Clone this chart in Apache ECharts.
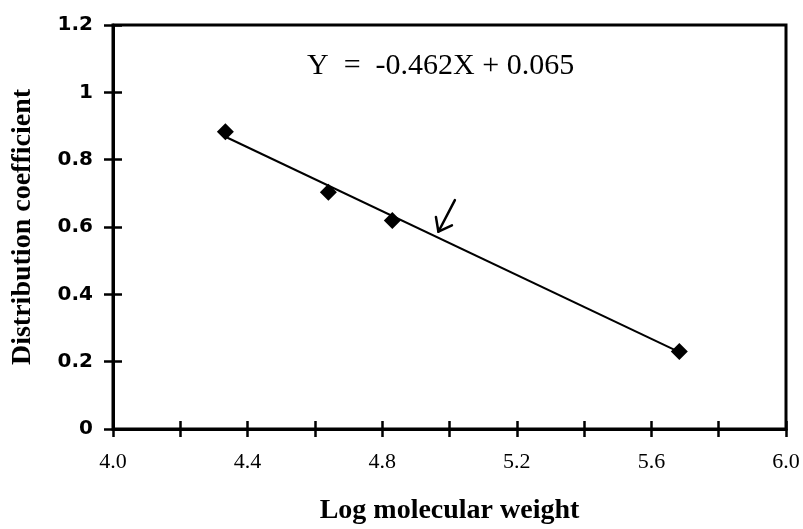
<!DOCTYPE html>
<html>
<head>
<meta charset="utf-8">
<script src="https://cdn.jsdelivr.net/npm/echarts@6/dist/echarts.min.js"></script>
<style>
  html, body { margin: 0; padding: 0; background: #fff; }
  #chart { width: 803px; height: 529px; }
</style>
</head>
<body>
<div id="chart"></div>
<script>
// Tick labels
const xTickLabels = ['4.0', '4.4', '4.8', '5.2', '5.6', '6.0'];
const yTickLabels = ['0', '0.2', '0.4', '0.6', '0.8', '1', '1.2'];

// Measured points: log molecular weight vs distribution coefficient
const logMW = [4.334, 4.640, 4.830, 5.683];
const distCoef = [0.883, 0.703, 0.619, 0.230];

// Regression line end points
const fitX = [4.334, 5.680];
const fitY = [0.868, 0.230];

// Arrow pointing at the regression line (tail, tip)
const arrowTail = [5.016, 0.680];
const arrowTip = [4.967, 0.586];

const equationText = 'Y  =  -0.462X + 0.065';

const chart = echarts.init(document.getElementById('chart'), null, { renderer: 'canvas' });

function labelFor(list) {
  return function (v) {
    const hit = list.find(s => Math.abs(parseFloat(s) - v) < 1e-6);
    return hit === undefined ? '' : hit;
  };
}

const xBase = { type: 'value', min: 4.0, max: 6.0, interval: 0.2 };
const yBase = { type: 'value', min: 0, max: 1.2, interval: 0.2 };

chart.setOption({
  animation: false,
  backgroundColor: '#fff',
  grid: {
    left: 113, right: 17, top: 25, bottom: 100,
    containLabel: false,
    outerBoundsMode: 'none',
    show: true, borderColor: '#000', borderWidth: 3, backgroundColor: 'transparent'
  },
  xAxis: [
    Object.assign({}, xBase, {
      position: 'bottom',
      name: 'Log molecular weight',
      nameLocation: 'middle',
      nameGap: 68,
      nameTextStyle: { fontFamily: 'Liberation Serif', fontWeight: 'bold', fontSize: 28, color: '#000' },
      axisLine: { show: true, onZero: false, lineStyle: { color: '#000', width: 3 } },
      axisTick: { show: true, inside: false, length: 8, lineStyle: { color: '#000', width: 2.5 } },
      axisLabel: {
        margin: 22, formatter: labelFor(xTickLabels), showMinLabel: true, showMaxLabel: true,
        fontFamily: 'Liberation Serif', fontSize: 22, color: '#000'
      },
      splitLine: { show: false }
    }),
    Object.assign({}, xBase, {
      position: 'bottom',
      axisLine: { show: false, onZero: false },
      axisTick: { show: true, inside: true, length: 8, lineStyle: { color: '#000', width: 2.5 } },
      axisLabel: { show: false },
      splitLine: { show: false }
    })
  ],
  yAxis: [
    Object.assign({}, yBase, {
      position: 'left',
      name: 'Distribution coefficient',
      nameLocation: 'middle',
      nameGap: 76,
      nameRotate: 90,
      nameTextStyle: { fontFamily: 'Liberation Serif', fontWeight: 'bold', fontSize: 28, color: '#000' },
      axisLine: { show: true, onZero: false, lineStyle: { color: '#000', width: 3 } },
      axisTick: { show: true, inside: false, length: 9, lineStyle: { color: '#000', width: 2.5 } },
      axisLabel: {
        margin: 20, formatter: labelFor(yTickLabels),
        fontFamily: 'DejaVu Sans', fontWeight: 'bold', fontSize: 20, color: '#000'
      },
      splitLine: { show: false }
    }),
    Object.assign({}, yBase, {
      position: 'left',
      axisLine: { show: false, onZero: false },
      axisTick: { show: true, inside: true, length: 9, lineStyle: { color: '#000', width: 2.5 } },
      axisLabel: { show: false },
      splitLine: { show: false }
    })
  ],
  graphic: [{
    type: 'text',
    left: 307,
    top: 51,
    style: {
      text: equationText,
      font: '30px "Liberation Serif"',
      fill: '#000'
    }
  }],
  series: [
    {
      type: 'line',
      xAxisIndex: 0, yAxisIndex: 0,
      data: fitX.map((x, i) => [x, fitY[i]]),
      showSymbol: false,
      symbol: 'none',
      lineStyle: { color: '#000', width: 2 },
      z: 2
    },
    {
      type: 'scatter',
      xAxisIndex: 0, yAxisIndex: 0,
      data: logMW.map((x, i) => [x, distCoef[i]]),
      symbol: 'diamond',
      symbolSize: [17, 17],
      itemStyle: { color: '#000', opacity: 1 },
      z: 3
    },
    {
      type: 'custom',
      xAxisIndex: 0, yAxisIndex: 0,
      data: [[arrowTail[0], arrowTail[1], arrowTip[0], arrowTip[1]]],
      renderItem: function (params, api) {
        const t = api.coord([api.value(0), api.value(1)]);
        const p = api.coord([api.value(2), api.value(3)]);
        const ang = Math.atan2(t[1] - p[1], t[0] - p[0]);
        const len = 15, spread = 37 * Math.PI / 180;
        const a1 = [p[0] + len * Math.cos(ang - spread), p[1] + len * Math.sin(ang - spread)];
        const a2 = [p[0] + len * Math.cos(ang + spread), p[1] + len * Math.sin(ang + spread)];
        const style = { stroke: '#000', lineWidth: 2.5, fill: null, lineCap: 'round', lineJoin: 'round' };
        return {
          type: 'group',
          children: [
            { type: 'polyline', shape: { points: [t, p] }, style: style },
            { type: 'polyline', shape: { points: [a1, p, a2] }, style: style }
          ]
        };
      },
      z: 4
    }
  ]
});
</script>
</body>
</html>
